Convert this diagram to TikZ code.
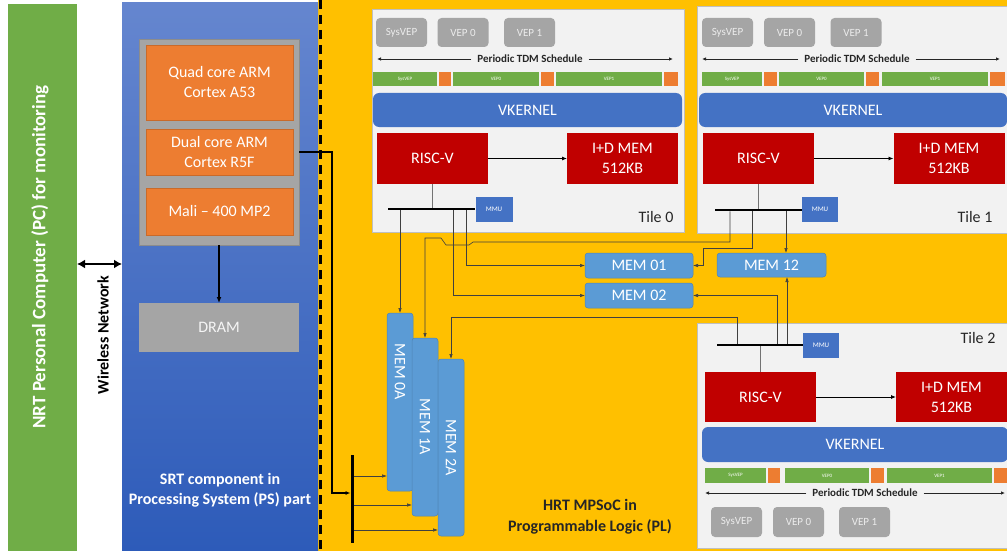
\documentclass[tikz,border=0pt]{standalone}
\usepackage{fontspec}
\setmainfont{Carlito}
\usetikzlibrary{arrows.meta,calc,positioning}

\definecolor{pcgreen}{HTML}{70AD47}
\definecolor{psblueT}{HTML}{6586CF}
\definecolor{psblueB}{HTML}{2D5BB9}
\definecolor{plyellow}{HTML}{FFC000}
\definecolor{coreorange}{HTML}{ED7D31}
\definecolor{boxgray}{HTML}{A5A5A5}
\definecolor{tilegray}{HTML}{F2F2F2}
\definecolor{kernelblue}{HTML}{4472C4}
\definecolor{riscred}{HTML}{C00000}
\definecolor{memblue}{HTML}{5B9BD5}

\tikzset{
  every node/.style={inner sep=0pt, outer sep=0pt},
  tilebox/.style={fill=tilegray, draw=black!25, line width=1pt},
  corebox/.style={fill=coreorange, draw=coreorange!85!black, line width=0.4pt, text=white, align=center, font=\fontsize{16}{20}\selectfont, minimum width=147pt},
  redbox/.style={fill=riscred, text=white, align=center, font=\fontsize{16}{20}\selectfont, minimum width=111pt, minimum height=51pt},
  vepbox/.style={fill=boxgray, text=white!85!gray, rounded corners=4pt, font=\fontsize{11}{13}\selectfont, minimum width=51pt, minimum height=29pt},
  kernelbox/.style={fill=kernelblue, text=white, rounded corners=6pt, font=\fontsize{16}{20}\selectfont, minimum height=34pt},
  slot/.style={fill=pcgreen, text=white, font=\fontsize{5}{6}\selectfont, minimum height=14pt},
  gapbox/.style={fill=coreorange, minimum height=14pt},
  mmubox/.style={fill=kernelblue, text=white, font=\fontsize{7}{8}\selectfont, minimum width=37pt, minimum height=25pt},
  membox/.style={fill=memblue, draw=memblue!85!black, line width=0.5pt, text=white, rounded corners=3pt, font=\fontsize{16}{20}\selectfont},
  busbar/.style={fill=black, minimum height=2.5pt},
  tdm/.style={font=\bfseries\fontsize{11}{13}\selectfont, text=black!85, inner xsep=6pt},
  tilename/.style={font=\fontsize{16}{20}\selectfont, text=black!85},
  link/.style={draw=black!75, line width=0.6pt, -{Latex[length=5pt,width=3.5pt]}},
  riser/.style={draw=black!55, line width=1.5pt},
  sched/.style={draw=black!85, line width=0.8pt, -{Latex[length=4pt,width=3.5pt]}}
}

\begin{document}
\begin{tikzpicture}[x=1pt,y=-1pt]
    \path[use as bounding box] (0,0) rectangle (1007,551);
    \clip (0,0) rectangle (1007,551);
    \fill[white] (0,0) rectangle (1007,551);

    % panels
    \node[fill=plyellow, minimum width=689pt, minimum height=551pt] (pl) at (662.5,275.5) {};
    \node[top color=psblueT, bottom color=psblueB, minimum width=196pt, minimum height=548pt] (ps) at (220,277) {};
    \node[fill=pcgreen, minimum width=69pt, minimum height=547pt] (pc) at (42.5,277.5) {};
    \node[rotate=90, text=white, font=\bfseries\fontsize{19}{23}\selectfont] (pctext) at (40,257) {NRT Personal Computer (PC) for monitoring};
    \draw[line width=3pt, dash pattern=on 9pt off 6pt] (320,0) -- (320,551);

    \coordinate (wl) at (100,264);
    \draw[line width=2.2pt, {Latex[length=8pt,width=9pt]}-{Latex[length=8pt,width=9pt]}] (pc.east |- wl) -- (ps.west |- wl);
    \node[rotate=90, font=\bfseries\fontsize{16}{19}\selectfont] (wltext) at (103,335) {Wireless Network};

    % processing system
    \node[fill=boxgray, draw=black!45, line width=1pt, minimum width=160pt, minimum height=205pt] (cpu) at (219,142.5) {};
    \node[corebox, minimum height=75pt] (quad) at (219.5,82.5) {Quad core ARM\\Cortex A53};
    \node[corebox, minimum height=46pt] (dual) at (219.5,152) {Dual core ARM\\Cortex R5F};
    \node[corebox, minimum height=47pt] (mali) at (219.5,211.5) {Mali -- 400 MP2};
    \node[fill=boxgray, text=white!92!gray, font=\fontsize{16}{20}\selectfont, minimum width=160pt, minimum height=49pt] (dram) at (219,327.5) {DRAM};
    \draw[line width=1.3pt, -{Latex[length=6pt,width=5pt]}] (cpu.south) -- (dram.north);
    \node[text=white, align=center, font=\bfseries\fontsize{16}{20}\selectfont] (srt) at (220,490) {SRT component in\\Processing System (PS) part};

    % tile 0
    \node[tilebox, minimum width=312pt, minimum height=222pt] (tile0) at (528,121) {};
    \node[vepbox] (sys0) at (401.5,32.5) {SysVEP};
    \node[vepbox] (vepa0) at (463,32.5) {VEP 0};
    \node[vepbox] (vepb0) at (529.5,32.5) {VEP 1};
    \node[tdm] (tdm0) at (530,59) {Periodic TDM Schedule};
    \draw[sched] (tdm0.west) -- ($(tile0.west |- tdm0)+(5,0)$);
    \draw[sched] (tdm0.east) -- ($(tile0.east |- tdm0)+(-11,0)$);
    \node[slot, minimum width=64pt] (s0sys) at (405,79) {SysVEP};
    \node[gapbox, minimum width=12pt] (g0a) at (445,79) {};
    \node[slot, minimum width=86pt] (s0a) at (496,79) {VEP0};
    \node[gapbox, minimum width=13pt] (g0b) at (547.5,79) {};
    \node[slot, minimum width=106pt] (s0b) at (609,79) {VEP1};
    \node[gapbox, minimum width=14pt] (g0c) at (671,79) {};
    \node[kernelbox, minimum width=309pt] (vk0) at (527.5,110) {VKERNEL};
    \node[redbox] (risc0) at (432.5,158.5) {RISC-V};
    \node[redbox] (idm0) at (622.5,158.5) {I+D MEM\\512KB};
    \draw[-{Latex[length=5pt,width=4pt]}, line width=0.8pt] (risc0) -- (idm0);
    \node[busbar, minimum width=87pt] (bus0) at (431.5,209) {};
    \node[mmubox] (mmu0) at (494,209.5) {MMU};
    \draw[riser] (risc0.south) -- (risc0.south |- bus0.north);
    \node[tilename] (tn0) at (656,217) {Tile 0};

    % tile 1
    \node[tilebox, minimum width=312pt, minimum height=226pt] (tile1) at (853,120) {};
    \node[vepbox] (sys1) at (727.5,32.5) {SysVEP};
    \node[vepbox] (vepa1) at (789.5,32.5) {VEP 0};
    \node[vepbox] (vepb1) at (856,32.5) {VEP 1};
    \node[tdm] (tdm1) at (857,59) {Periodic TDM Schedule};
    \draw[sched] (tdm1.west) -- ($(tile1.west |- tdm1)+(5,0)$);
    \draw[sched] (tdm1.east) -- ($(tile1.east |- tdm1)+(-9,0)$);
    \node[slot, minimum width=60pt] (s1sys) at (732,79) {SysVEP};
    \node[gapbox, minimum width=13pt] (g1a) at (770.5,79) {};
    \node[slot, minimum width=85pt] (s1a) at (821.5,79) {VEP0};
    \node[gapbox, minimum width=13pt] (g1b) at (872.5,79) {};
    \node[slot, minimum width=106pt] (s1b) at (935,79) {VEP1};
    \node[gapbox, minimum width=15pt] (g1c) at (997.5,79) {};
    \node[kernelbox, minimum width=308pt] (vk1) at (853,110) {VKERNEL};
    \node[redbox] (risc1) at (758.5,158.5) {RISC-V};
    \node[redbox] (idm1) at (949,158.5) {I+D MEM\\512KB};
    \draw[-{Latex[length=5pt,width=4pt]}, line width=0.8pt] (risc1) -- (idm1);
    \node[busbar, minimum width=87pt] (bus1) at (758.5,210) {};
    \node[mmubox, minimum width=36pt] (mmu1) at (820,209.5) {MMU};
    \draw[riser] (risc1.south) -- (risc1.south |- bus1.north);
    \node[tilename] (tn1) at (975,217) {Tile 1};

    % tile 2
    \node[tilebox, minimum width=312pt, minimum height=225pt] (tile2) at (853,435.5) {};
    \node[tilename] (tn2) at (978,338) {Tile 2};
    \node[busbar, minimum width=86pt] (bus2) at (760,345) {};
    \node[mmubox, minimum width=36pt] (mmu2) at (821,345) {MMU};
    \node[redbox, minimum height=50pt] (risc2) at (760.5,397) {RISC-V};
    \node[redbox, minimum height=50pt] (idm2) at (951.5,397) {I+D MEM\\512KB};
    \draw[-{Latex[length=5pt,width=4pt]}, line width=0.8pt] (risc2) -- (idm2);
    \draw[riser] (risc2.north) -- (risc2.north |- bus2.south);
    \node[kernelbox, minimum width=306pt, minimum height=35pt] (vk2) at (855,444.5) {VKERNEL};
    \node[slot, minimum width=61pt, minimum height=15pt] (s2sys) at (735.5,475.5) {SysVEP};
    \node[gapbox, minimum width=12pt, minimum height=15pt] (g2a) at (774,475.5) {};
    \node[slot, minimum width=84pt, minimum height=15pt] (s2a) at (827,475.5) {VEP0};
    \node[gapbox, minimum width=13pt, minimum height=15pt] (g2b) at (877.5,475.5) {};
    \node[slot, minimum width=105pt, minimum height=15pt] (s2b) at (939.5,475.5) {VEP1};
    \node[gapbox, minimum width=13pt, minimum height=15pt] (g2c) at (1000.5,475.5) {};
    \node[tdm] (tdm2) at (865,493) {Periodic TDM Schedule};
    \draw[sched] (tdm2.west) -- ($(tile2.west |- tdm2)+(8,0)$);
    \draw[sched] (tdm2.east) -- ($(tile2.east |- tdm2)+(-4,0)$);
    \node[vepbox, minimum height=30pt] (sys2) at (736.5,522) {SysVEP};
    \node[vepbox, minimum height=30pt] (vepa2) at (798.5,522) {VEP 0};
    \node[vepbox, minimum height=30pt] (vepb2) at (864.5,522) {VEP 1};

    % shared memories
    \node[membox, minimum width=108pt, minimum height=25pt] (mem01) at (639,265.5) {MEM 01};
    \node[membox, minimum width=108pt, minimum height=25pt] (mem02) at (639,295.5) {MEM 02};
    \node[membox, minimum width=109pt, minimum height=24pt] (mem12) at (771.5,265) {MEM 12};
    \node[membox, minimum width=26pt, minimum height=178pt] (mem0a) at (400,402) {\rotatebox{-90}{MEM 0A\hspace*{60pt}}};
    \node[membox, minimum width=26pt, minimum height=178pt] (mem1a) at (425,427) {\rotatebox{-90}{MEM 1A}};
    \node[membox, minimum width=26pt, minimum height=177pt] (mem2a) at (451,447.5) {\rotatebox{-90}{MEM 2A}};
    \node[font=\bfseries\fontsize{16}{21}\selectfont, text=black!85, align=center] (hrt) at (590,517) {HRT MPSoC in\\Programmable Logic (PL)};

    % links
    \node[fill=black, minimum width=3pt, minimum height=88pt] (psbus) at (352,499) {};
    \coordinate (psdrop) at (332,493);
    \draw[line width=1.2pt, -{Latex[length=5pt,width=4pt]}] (cpu.east |- dual) -| (psdrop) -- (psdrop -| psbus.west);
    \draw[link] (psbus.east |- 0,476) -- (mem0a.west |- 0,476);
    \draw[link] (psbus.east |- 0,505) -- (mem1a.west |- 0,505);
    \draw[link] (psbus.east |- 0,530) -- (mem2a.west |- 0,530);

    \draw[link] (bus0.south -| mem0a.north) -- (mem0a.north);
    \draw[link] (bus0.south -| 453,0) |- (mem02.west);
    \draw[link] (bus0.south -| 466,0) |- (mem01.west);

    \draw[link] (bus1.south -| 730,0) -- (730,242) -- (473,242) -- (469,245) -- (446,245) -- (441,238) -| (mem1a.north);
    \draw[link] (bus1.south -| 752,0) |- (703,248) |- (mem01.east);
    \draw[link] (bus1.south -| 786,0) -- (mem12.north -| 786,0);

    \draw[link] (bus2.north -| 737,0) |- (mem2a.north |- 0,317) -- (mem2a.north);
    \draw[link] (bus2.north -| 777,0) |- (mem02.east);
    \draw[link] (bus2.north -| 787,0) -- (mem12.south -| 787,0);
\end{tikzpicture}
\end{document}
